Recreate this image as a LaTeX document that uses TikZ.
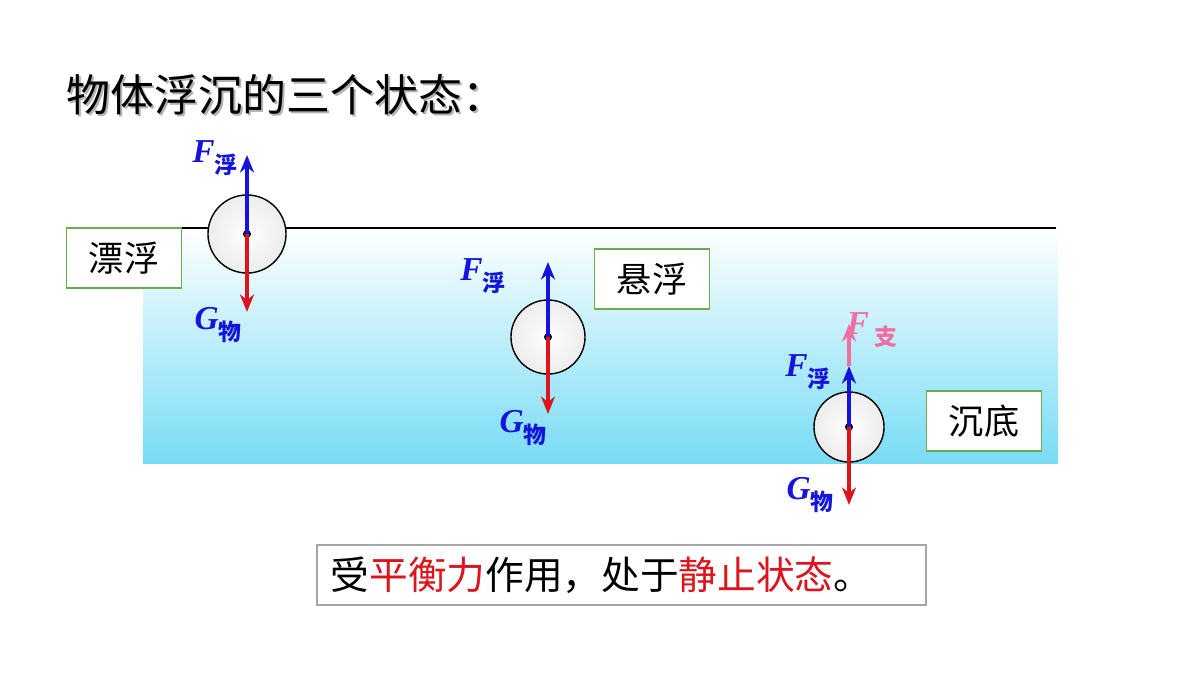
\documentclass[tikz,border=0pt]{standalone}
\usepackage{fontspec}
\newfontfamily\cjk{Noto Sans CJK SC}
\setmainfont{Liberation Serif}
\usetikzlibrary{arrows.meta}
\definecolor{fblue}{RGB}{20,20,220}
\definecolor{gred}{RGB}{220,20,30}
\definecolor{fpink}{RGB}{240,110,160}
\definecolor{water}{RGB}{120,220,245}
\definecolor{boxg}{RGB}{110,170,80}
\begin{document}
\begin{tikzpicture}[x=0.01cm,y=-0.01cm,
  lbl/.style={draw=boxg,line width=0.5pt,fill=white,minimum width=1.15cm,minimum height=0.6cm,inner sep=0pt,font=\cjk\fontsize{10}{11}\selectfont},
  ball/.style={circle,draw=black,line width=0.4pt,inner color=white,outer color=gray!15,minimum size=#1,inner sep=0pt},
  up/.style={draw=fblue,line width=1.2pt,-{Stealth[length=5pt,width=4pt]}},
  dn/.style={draw=gred,line width=1.2pt,-{Stealth[length=5pt,width=4pt]}},
  force/.style={font=\bfseries\itshape\fontsize{9.5}{10}\selectfont}]
\useasboundingbox (0,0) rectangle (1200,675);
\shade[top color=white,bottom color=water] (143,228) rectangle (1058,463);
\draw[line width=0.5pt] (181,228) -- (1056,228);
\node[anchor=west,font=\cjk\fontsize{12.5}{13}\selectfont,text=gray!60] at (56,97) {物体浮沉的三个状态：};
\node[anchor=west,font=\cjk\fontsize{12.5}{13}\selectfont] (title) at (54,95) {物体浮沉的三个状态：};
% ball 1
\node[lbl] (b1) at (124,258) {漂浮};
\node[ball=0.78cm] (c1) at (247,234) {};
\fill (c1.center) circle (4);
\coordinate (u1) at (247,155); \coordinate (d1) at (247,312);
\draw[up] (c1.center) -- (u1); \draw[dn] (c1.center) -- (d1);
\node[force,text=fblue] (f1) at (215,158) {F\raisebox{-3pt}{\cjk\fontsize{6.5}{7}\selectfont 浮}};
\node[force,text=fblue] (g1) at (218,325) {G\raisebox{-3pt}{\cjk\fontsize{6.5}{7}\selectfont 物}};
% ball 2
\node[lbl] (b2) at (652,279) {悬浮};
\node[ball=0.74cm] (c2) at (548,337) {};
\fill (c2.center) circle (4);
\coordinate (u2) at (548,262); \coordinate (d2) at (548,414);
\draw[up] (c2.center) -- (u2); \draw[dn] (c2.center) -- (d2);
\node[force,text=fblue] (f2) at (483,276) {F\raisebox{-3pt}{\cjk\fontsize{6.5}{7}\selectfont 浮}};
\node[force,text=fblue] (g2) at (523,428) {G\raisebox{-3pt}{\cjk\fontsize{6.5}{7}\selectfont 物}};
% ball 3
\node[lbl] (b3) at (984,421) {沉底};
\node[ball=0.70cm] (c3) at (849,427) {};
\fill (c3.center) circle (4);
\coordinate (u3) at (849,366); \coordinate (p3) at (849,324); \coordinate (d3) at (849,505);
\draw[up] (c3.center) -- (u3);
\draw[draw=fpink,line width=1.2pt,-{Stealth[length=5pt,width=4pt]}] (u3) -- (p3);
\draw[dn] (c3.center) -- (d3);
\node[force,text=fpink] (f3) at (872,330) {F\,\raisebox{-3pt}{\cjk\fontsize{6.5}{7}\selectfont 支}};
\node[force,text=fblue] (f4) at (808,372) {F\raisebox{-3pt}{\cjk\fontsize{6.5}{7}\selectfont 浮}};
\node[force,text=fblue] (g3) at (810,495) {G\raisebox{-3pt}{\cjk\fontsize{6.5}{7}\selectfont 物}};
% bottom box
\node[draw=gray!70,line width=0.5pt,minimum width=6.09cm,minimum height=0.6cm,inner sep=0pt] (note) at (621.5,575) {};
\node[anchor=west,font=\cjk\fontsize{11}{12}\selectfont,inner sep=0pt] (notet) at (330,575) {受\textcolor{gred}{平衡力}作用，处于\textcolor{gred}{静止状态}。};
\end{tikzpicture}
\end{document}
